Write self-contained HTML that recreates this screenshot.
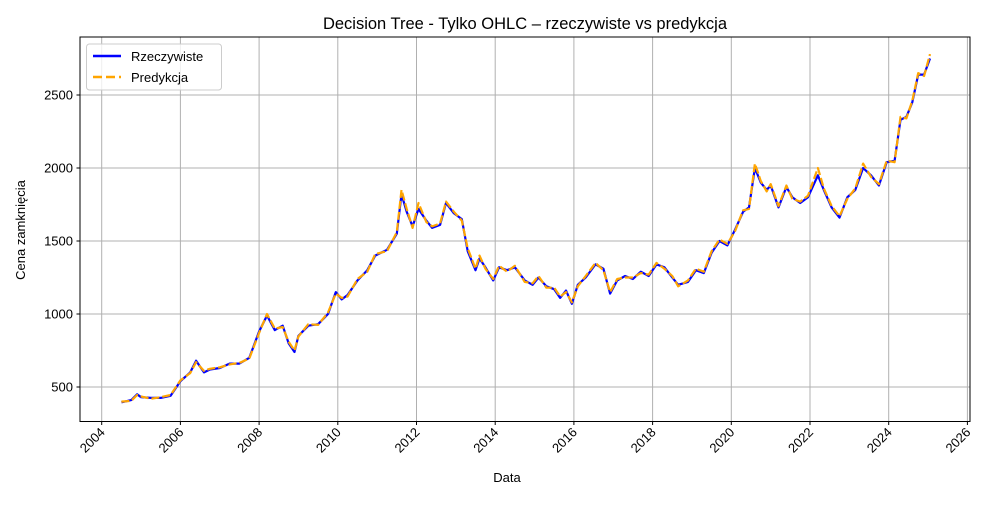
<!DOCTYPE html>
<html><head><meta charset="utf-8"><style>
body{margin:0;background:#fff;}
svg text{font-family:"Liberation Sans","DejaVu Sans",sans-serif;}
</style></head><body>
<svg id="chart" width="1000" height="500" viewBox="0 0 1000 500" xmlns="http://www.w3.org/2000/svg">
<rect width="1000" height="500" fill="#fff"/>
<g id="grid"></g>
<g id="series"></g>
<rect x="80" y="37" width="890" height="384.5" fill="none" stroke="#000" stroke-width="1"/>
<g id="axes"></g>
<text x="525" y="29" text-anchor="middle" font-size="16.5">Decision Tree - Tylko OHLC – rzeczywiste vs predykcja</text>
<text x="507" y="482" text-anchor="middle" font-size="13">Data</text>
<text transform="translate(25,230) rotate(-90)" text-anchor="middle" font-size="13">Cena zamknięcia</text>
<g>
<rect x="86.5" y="44" width="135" height="46" rx="3" fill="#fff" fill-opacity="0.8" stroke="#ccc"/>
<g><line x1="93" y1="56" x2="121" y2="56" stroke="#0000ff" stroke-width="2.5"/><text x="131" y="61" font-size="13">Rzeczywiste</text></g>
<g><line x1="93" y1="77" x2="121" y2="77" stroke="#ffa500" stroke-width="2.5" stroke-dasharray="9,4"/><text x="131" y="82" font-size="13">Predykcja</text></g>
</g>
</svg>
<script>
const dates=[2004.5,2004.75,2004.9,2005.0,2005.25,2005.5,2005.75,2006.0,2006.25,2006.4,2006.6,2006.75,2007.0,2007.25,2007.5,2007.75,2008.0,2008.2,2008.4,2008.6,2008.75,2008.9,2009.0,2009.25,2009.5,2009.75,2009.95,2010.1,2010.25,2010.5,2010.75,2010.95,2011.25,2011.5,2011.62,2011.75,2011.9,2012.05,2012.25,2012.4,2012.6,2012.75,2012.95,2013.15,2013.3,2013.5,2013.6,2013.75,2013.95,2014.1,2014.3,2014.5,2014.75,2014.95,2015.1,2015.3,2015.5,2015.65,2015.8,2015.95,2016.1,2016.3,2016.55,2016.75,2016.92,2017.1,2017.3,2017.5,2017.7,2017.9,2018.1,2018.3,2018.5,2018.65,2018.9,2019.1,2019.3,2019.5,2019.7,2019.9,2020.1,2020.3,2020.45,2020.6,2020.75,2020.9,2021.0,2021.2,2021.4,2021.55,2021.75,2021.95,2022.2,2022.35,2022.55,2022.75,2022.95,2023.15,2023.35,2023.55,2023.75,2023.95,2024.15,2024.3,2024.45,2024.6,2024.75,2024.9,2025.05];
const actual=[395,410,450,430,425,425,440,540,600,680,600,620,630,660,660,700,880,990,890,920,800,740,850,920,930,1000,1150,1100,1130,1230,1300,1400,1440,1550,1820,1700,1600,1720,1640,1590,1610,1760,1690,1650,1430,1300,1380,1320,1230,1320,1300,1320,1230,1200,1250,1190,1170,1110,1160,1070,1200,1250,1340,1310,1140,1230,1260,1240,1290,1260,1340,1320,1250,1200,1220,1300,1280,1420,1500,1470,1580,1700,1730,2000,1900,1850,1880,1730,1870,1800,1760,1800,1950,1850,1730,1660,1800,1850,2000,1950,1880,2040,2050,2330,2350,2450,2640,2640,2750];
const predicted=[400,405,445,435,420,430,445,545,595,670,610,625,635,655,665,695,870,1000,900,910,810,750,845,930,925,1010,1140,1110,1120,1240,1290,1410,1430,1560,1850,1720,1590,1760,1630,1600,1620,1770,1700,1640,1450,1310,1400,1310,1240,1330,1290,1330,1220,1210,1260,1180,1180,1120,1150,1080,1190,1260,1350,1300,1150,1240,1250,1250,1280,1270,1350,1310,1260,1190,1230,1310,1290,1430,1510,1480,1570,1710,1720,2030,1910,1840,1890,1740,1880,1790,1770,1810,2000,1860,1740,1670,1790,1860,2030,1940,1890,2050,2040,2350,2340,2460,2650,2630,2780];
const xTicks=[2004,2006,2008,2010,2012,2014,2016,2018,2020,2022,2024,2026];
const yTicks=[500,1000,1500,2000,2500];
const NS="http://www.w3.org/2000/svg";
function xs(d){return 101.7+(d-2004)*39.35;}
function ys(v){return 387-(v-500)*0.146;}
const grid=document.getElementById('grid'),axes=document.getElementById('axes'),ser=document.getElementById('series');
function mk(tag,attrs,parent){const e=document.createElementNS(NS,tag);for(const k in attrs)e.setAttribute(k,attrs[k]);parent.appendChild(e);return e;}
xTicks.forEach(t=>{const x=xs(t);
const g=mk('line',{x1:x,x2:x,y1:37,y2:421.5,stroke:'#b0b0b0','stroke-width':1},grid);


const tk=mk('line',{x1:x,x2:x,y1:421.5,y2:425,stroke:'#000'},axes);


const tx=mk('text',{'font-size':13,'text-anchor':'end',transform:`translate(${x+4},${433}) rotate(-45)`},axes);
tx.textContent=t;


});
yTicks.forEach(t=>{const y=ys(t);
const g=mk('line',{x1:80,x2:970,y1:y,y2:y,stroke:'#b0b0b0','stroke-width':1},grid);


const tk=mk('line',{x1:76.5,x2:80,y1:y,y2:y,stroke:'#000'},axes);


const tx=mk('text',{x:73,y:y+4.5,'font-size':13,'text-anchor':'end'},axes);
tx.textContent=t;


});
function path(vals){return vals.map((v,i)=>(i?'L':'M')+xs(dates[i]).toFixed(1)+','+ys(v).toFixed(1)).join('');}
const a=mk('path',{d:path(actual),fill:'none',stroke:'#0000ff','stroke-width':2.2,'stroke-linejoin':'round'},ser);


const p=mk('path',{d:path(predicted),fill:'none',stroke:'#ffa500','stroke-width':2.2,'stroke-dasharray':'8,3','stroke-linejoin':'round'},ser);


</script>
</body></html>
